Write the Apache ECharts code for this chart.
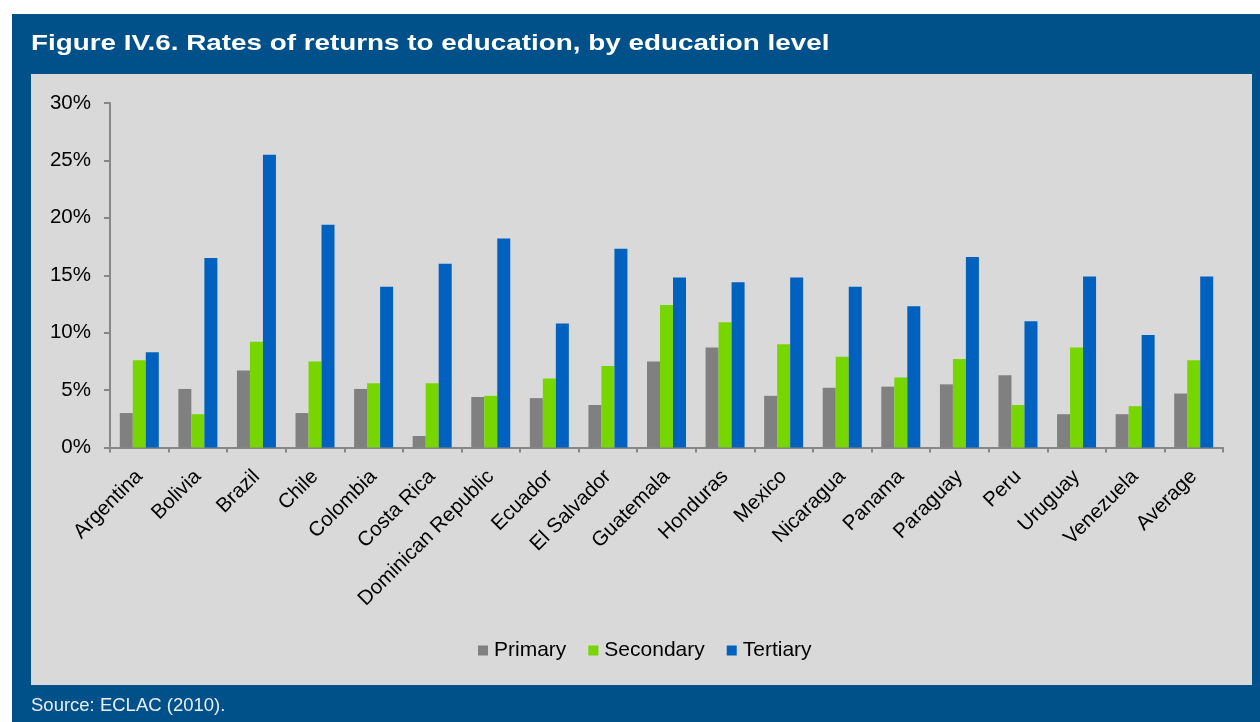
<!DOCTYPE html>
<html>
<head>
<meta charset="utf-8">
<style>
  html, body { margin: 0; padding: 0; background: #ffffff; }
  #chart { width: 1260px; height: 722px; }
</style>
<script src="https://cdn.jsdelivr.net/npm/echarts@6/dist/echarts.min.js"></script>
</head>
<body>
<div id="chart"></div>
<script>
// Rates of returns to education (%), by country and education level
const countries = ['Argentina', 'Bolivia', 'Brazil', 'Chile', 'Colombia', 'Costa Rica',
  'Dominican Republic', 'Ecuador', 'El Salvador', 'Guatemala', 'Honduras', 'Mexico',
  'Nicaragua', 'Panama', 'Paraguay', 'Peru', 'Uruguay', 'Venezuela', 'Average'];
const primary   = [3.0, 5.1, 6.7, 3.0, 5.1, 1.0, 4.4, 4.3, 3.7, 7.5, 8.7, 4.5, 5.2, 5.3, 5.5, 6.3, 2.9, 2.9, 4.7];
const secondary = [7.6, 2.9, 9.2, 7.5, 5.6, 5.6, 4.5, 6.0, 7.1, 12.4, 10.9, 9.0, 7.9, 6.1, 7.7, 3.7, 8.7, 3.6, 7.6];
const tertiary  = [8.3, 16.5, 25.5, 19.4, 14.0, 16.0, 18.2, 10.8, 17.3, 14.8, 14.4, 14.8, 14.0, 12.3, 16.6, 11.0, 14.9, 9.8, 14.9];
const yTicks = { min: 0, max: 30, interval: 5 };

const FONT = '"Liberation Sans", Arial, sans-serif';
const AXIS_GREY = '#878787';

const chart = echarts.init(document.getElementById('chart'), null, { renderer: 'canvas' });

function barSeries(name, data, color) {
  return {
    name: name,
    type: 'bar',
    data: data,
    barWidth: 13,
    barGap: '0%',
    itemStyle: { color: color },
    emphasis: { disabled: true }
  };
}

chart.setOption({
  backgroundColor: '#ffffff',
  animation: false,
  textStyle: { fontFamily: FONT },
  graphic: [
    // dark blue frame and light grey plot panel
    { type: 'rect', z: -10, silent: true,
      shape: { x: 12, y: 14, width: 1248, height: 708 },
      style: { fill: '#00518A' } },
    { type: 'rect', z: -9, silent: true,
      shape: { x: 31, y: 74, width: 1221, height: 611 },
      style: { fill: '#D9D9D9' } },
    // heading, set in a wide bold face
    { type: 'text', z: 5, silent: true, x: 31, y: 33, scaleX: 1.265,
      style: { text: 'Figure IV.6. Rates of returns to education, by education level',
               fill: '#ffffff', font: 'bold 22px ' + FONT, verticalAlign: 'top' } },
    { type: 'text', z: 5, silent: true, x: 31, y: 696,
      style: { text: 'Source: ECLAC (2010).', fill: '#E8EEF4',
               font: '18.5px ' + FONT, verticalAlign: 'top' } }
  ],
  legend: {
    data: ['Primary', 'Secondary', 'Tertiary'],
    left: 473,
    top: 635,
    itemWidth: 10,
    itemHeight: 10,
    itemGap: 22,
    icon: 'rect',
    textStyle: { color: '#000000', fontSize: 21, fontFamily: FONT, padding: [0, 0, 0, 1] }
  },
  grid: {
    left: 110,
    right: 37,
    top: 103,
    bottom: 274.5,
    containLabel: false
  },
  xAxis: {
    type: 'category',
    data: countries,
    axisLine: { show: true, lineStyle: { color: AXIS_GREY, width: 2 } },
    axisTick: { show: true, alignWithLabel: false, length: 5, lineStyle: { color: AXIS_GREY, width: 2 } },
    axisLabel: {
      interval: 0,
      rotate: 45,
      margin: 26,
      color: '#000000',
      fontSize: 20.5,
      fontFamily: FONT
    },
    splitLine: { show: false }
  },
  yAxis: {
    type: 'value',
    min: yTicks.min,
    max: yTicks.max,
    interval: yTicks.interval,
    axisLine: { show: true, lineStyle: { color: AXIS_GREY, width: 2 } },
    axisTick: { show: true, length: 6, lineStyle: { color: AXIS_GREY, width: 2 } },
    axisLabel: {
      formatter: '{value}%',
      margin: 19,
      color: '#000000',
      fontSize: 20.5,
      fontFamily: FONT
    },
    splitLine: { show: false }
  },
  series: [
    barSeries('Primary', primary, '#808080'),
    barSeries('Secondary', secondary, '#77D600'),
    barSeries('Tertiary', tertiary, '#0062BE')
  ]
});
</script>
</body>
</html>
